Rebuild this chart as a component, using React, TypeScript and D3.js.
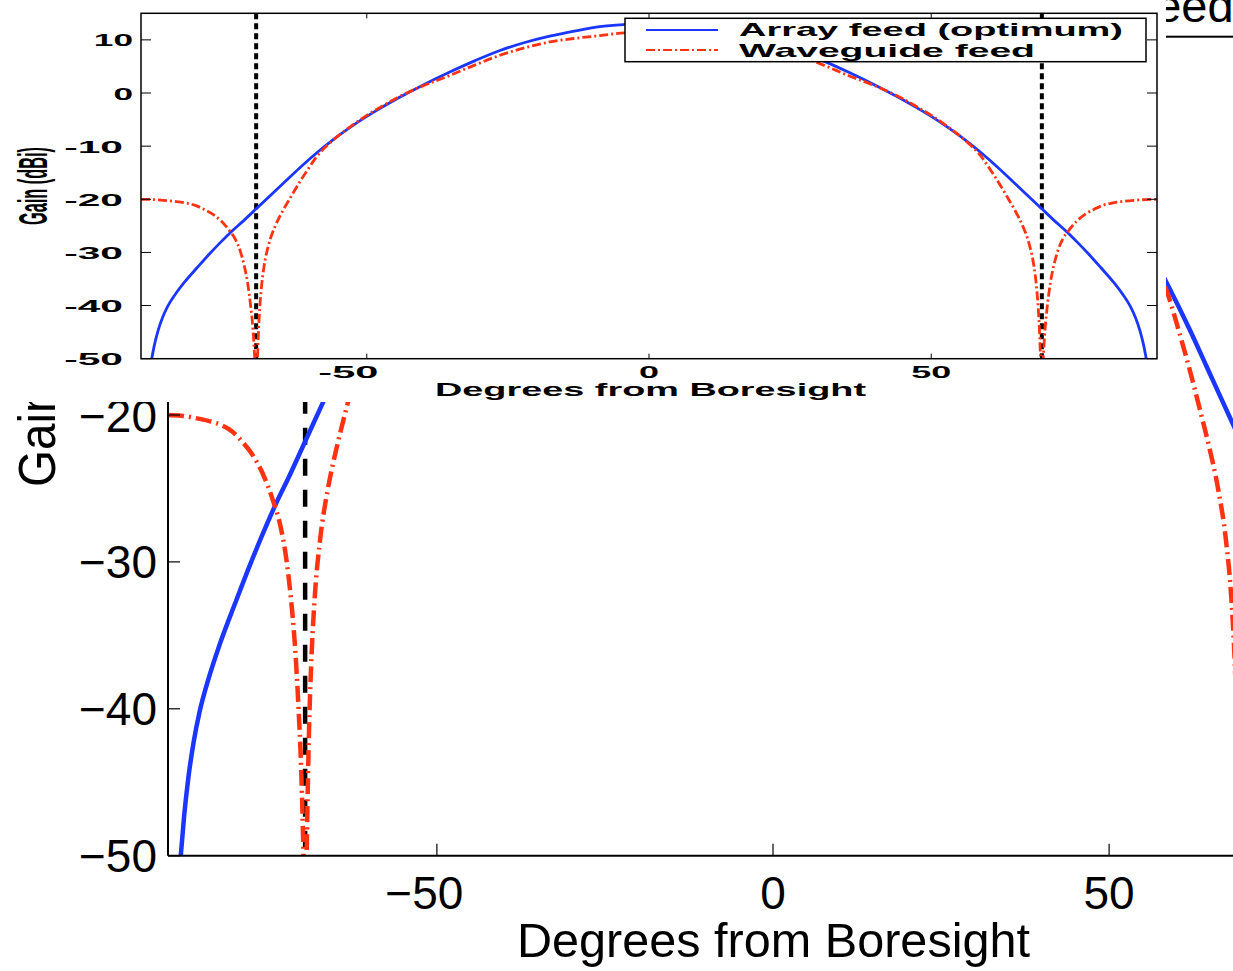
import React from "react";
import * as d3 from "d3";

// ---------- data ----------
const arrayAngles = [
  -88.6, -88.1, -87.6, -87.0, -86.2, -85.3, -84.0, -82.3, -80.0, -77.8, -76.0, -74.0, -72.0, -69.6,
  -66.7, -64.5, -62.0, -58.9, -56.0, -53.0, -50.0, -47.0, -44.1, -40.6, -35.3, -30.8, -26.4, -22.0,
  -17.6, -13.0, -8.7, -4.3, 0,
  4.3, 8.7, 13.0, 17.6, 22.0, 26.4, 30.8, 35.3, 40.6, 44.1, 47.0, 50.0, 53.0, 56.0, 58.9, 62.0,
  64.5, 66.7, 69.6, 72.0, 74.0, 76.0, 77.8, 80.0, 82.3, 84.0, 85.3, 86.2, 87.0, 87.6, 88.1, 88.6,
];
const arrayGains = [
  -53, -50, -47.3, -44.8, -42.3, -40.2, -38.0, -35.6, -32.8, -30.2, -28.2, -26.1, -24.2, -21.8,
  -18.9, -16.7, -14.2, -11.3, -8.8, -6.5, -4.4, -2.5, -0.75, 1.2, 3.95, 6.1, 8.0, 9.5,
  10.7, 11.7, 12.5, 12.9, 13.1,
  12.9, 12.5, 11.7, 10.7, 9.5, 8.0, 6.1, 3.95, 1.2, -0.75, -2.5, -4.4, -6.5, -8.8, -11.3, -14.2,
  -16.7, -18.9, -21.8, -24.2, -26.1, -28.2, -30.2, -32.8, -35.6, -38.0, -40.2, -42.3, -44.8, -47.3, -50, -53,
];

const waveAngles = [
  -90, -88, -86, -84, -82, -80.5, -79, -77.3, -75.8, -74.4, -73.3, -72.4, -71.8, -71.1, -70.6, -70.2,
  -69.95, -69.75, -69.6, -69.45, -69.3, -69.05, -68.7, -68.2, -67.4, -66.2, -64.9, -63.6, -61.8,
  -60.2, -58.9, -56, -53, -50, -47, -44.1, -40.6, -35.3, -30.8, -26.4, -22, -17.6, -13, -8.7, -4.3, 0,
  4.3, 8.7, 13, 17.6, 22, 26.4, 30.8, 35.3, 40.6, 44.1, 47, 50, 53, 56, 58.9, 60.2, 61.8, 63.6, 64.9,
  66.2, 67.4, 68.2, 68.7, 69.05, 69.3, 69.45, 69.6, 69.75, 69.95, 70.2, 70.6, 71.1, 71.8, 72.4, 73.3,
  74.4, 75.8, 77.3, 79, 80.5, 82, 84, 86, 88, 90,
];
const waveGains = [
  -20.0, -20.05, -20.2, -20.4, -20.7, -21.1, -21.8, -22.8, -24.1, -25.8, -27.5, -29.8, -32.1, -35.8, -39.8, -44.0,
  -48, -53, -65, -53, -48, -42, -37, -32.6, -28.6, -25.0, -22.2, -19.8, -16.6,
  -14.0, -12.0, -8.9, -6.4, -4.2, -2.3, -0.6, 1.1, 3.3, 5.3, 7.1, 8.5, 9.6, 10.3, 10.8, 11.3, 11.4,
  11.3, 10.8, 10.3, 9.6, 8.5, 7.1, 5.3, 3.3, 1.1, -0.6, -2.3, -4.2, -6.4, -8.9, -12.0, -14.0, -16.6, -19.8, -22.2,
  -25.0, -28.6, -32.6, -37, -42, -48, -53, -65, -53, -48, -44.0, -39.8, -35.8, -32.1, -29.8, -27.5,
  -25.8, -24.1, -22.8, -21.8, -21.1, -20.7, -20.4, -20.2, -20.05, -20.0,
];

const nullAngles = [-69.6, 69.6];
const insetYTicks = [10, 0, -10, -20, -30, -40, -50];
const xTickValues = [-50, 0, 50];
const mainYTicks = [-20, -30, -40, -50];
const seriesNames = ["Array feed (optimum)", "Waveguide feed"];
const xAxisTitle = "Degrees from Boresight";
const yAxisTitle = "Gain (dBi)";

// ---------- styling ----------
const W = 1233;
const H = 971;
const BLUE = "#1a36ff";
const RED = "#ff3312";
const FONT = "'Liberation Sans', Arial, Helvetica, sans-serif";

type Pt = [number, number];

export default function App() {
  const arrayData: Pt[] = arrayAngles.map((a, i) => [a, arrayGains[i]]);
  const waveData: Pt[] = waveAngles.map((a, i) => [a, waveGains[i]]);

  // background (large) chart
  const mx = d3.scaleLinear().domain([-90, 90]).range([168, 1378]);
  const my = d3.scaleLinear().domain([-50, 15]).range([855.7, 855.7 - 65 * 14.69]);
  const mLine = d3
    .line<Pt>()
    .x((d) => mx(d[0]))
    .y((d) => my(d[1]))
    .curve(d3.curveMonotoneX);

  // inset chart
  const ix = d3.scaleLinear().domain([-90, 90]).range([141, 1157]);
  const iy = d3.scaleLinear().domain([-50, 15]).range([358.7, 13.3]);
  const iLine = d3
    .line<Pt>()
    .x((d) => ix(d[0]))
    .y((d) => iy(d[1]))
    .curve(d3.curveMonotoneX);

  const bigMinus = (v: number) => (v < 0 ? "\u2212" + Math.abs(v) : String(v));

  const mTop = my(15);
  const mBottom = my(-50);

  return (
    <svg
      width={W}
      height={H}
      viewBox={`0 0 ${W} ${H}`}
      style={{ position: "absolute", left: 0, top: 0, background: "#fff" }}
    >
      <defs>
        <clipPath id="mainClip">
          <rect x={mx(-90)} y={mTop} width={mx(90) - mx(-90)} height={mBottom - mTop} />
        </clipPath>
        <clipPath id="insetClip">
          <rect x={ix(-90)} y={iy(15)} width={ix(90) - ix(-90)} height={iy(-50) - iy(15)} />
        </clipPath>
      </defs>
      <rect x={0} y={0} width={W} height={H} fill="#fff" />

      {/* ===== Background large chart ===== */}
      <g>
        <g clipPath="url(#mainClip)">
          {nullAngles.map((a) => (
            <line
              key={a}
              x1={mx(a)}
              x2={mx(a)}
              y1={mTop}
              y2={mBottom}
              stroke="#000"
              strokeWidth={4.5}
              strokeDasharray="17,14"
            />
          ))}
          <path d={mLine(arrayData) || ""} fill="none" stroke={BLUE} strokeWidth={4.5} />
          <path
            d={mLine(waveData) || ""}
            fill="none"
            stroke={RED}
            strokeWidth={4.5}
            strokeDasharray="16,5,2,5"
          />
        </g>
        {/* axes */}
        <line x1={mx(-90)} x2={mx(90)} y1={mBottom} y2={mBottom} stroke="#000" strokeWidth={2} />
        <line x1={mx(-90)} x2={mx(-90)} y1={mTop} y2={mBottom} stroke="#000" strokeWidth={2} />
        {xTickValues.map((v) => (
          <g key={"mx" + v}>
            <line x1={mx(v)} x2={mx(v)} y1={mBottom} y2={mBottom - 12} stroke="#000" strokeWidth={1.2} />
            <text
              x={v < 0 ? mx(v) + 26.5 : mx(v)}
              y={909}
              textAnchor={v < 0 ? "end" : "middle"}
              fontFamily={FONT}
              fontSize={46}
              fill="#000"
            >
              {bigMinus(v)}
            </text>
          </g>
        ))}
        {mainYTicks.map((v) => (
          <g key={"my" + v}>
            <line x1={mx(-90)} x2={mx(-90) + 12} y1={my(v)} y2={my(v)} stroke="#000" strokeWidth={1.2} />
            <text
              x={157}
              y={my(v) + 16.5}
              textAnchor="end"
              fontFamily={FONT}
              fontSize={46}
              fill="#000"
            >
              {bigMinus(v)}
            </text>
          </g>
        ))}
        <text
          x={773.5}
          y={956.5}
          textAnchor="middle"
          fontFamily={FONT}
          fontSize={47.5}
          textLength={513}
          lengthAdjust="spacingAndGlyphs"
          fill="#000"
        >
          {xAxisTitle}
        </text>
        <text
          transform="translate(55,487) rotate(-90)"
          x={0}
          y={0}
          textAnchor="start"
          fontFamily={FONT}
          fontSize={52}
          textLength={214}
          lengthAdjust="spacingAndGlyphs"
          fill="#000"
        >
          {yAxisTitle}
        </text>
        {/* big legend (mostly hidden behind the inset) */}
        <rect x={760} y={-110} width={600} height={146.7} fill="#fff" stroke="#000" strokeWidth={2} />
        <text
          x={1233.6}
          y={21.7}
          textAnchor="end"
          fontFamily={FONT}
          fontSize={47}
          fill="#000"
        >
          {seriesNames[1]}
        </text>
      </g>

      {/* white backdrop of the inset figure */}
      <rect x={0} y={0} width={1166} height={402} fill="#fff" />

      {/* ===== Inset chart ===== */}
      <g>
        <g clipPath="url(#insetClip)">
          {nullAngles.map((a) => (
            <line
              key={"in" + a}
              x1={ix(a)}
              x2={ix(a)}
              y1={iy(15)}
              y2={iy(-50)}
              stroke="#000"
              strokeWidth={4}
              strokeDasharray="6,4"
            />
          ))}
          <path d={iLine(arrayData) || ""} fill="none" stroke={BLUE} strokeWidth={2.8} />
          <path
            d={iLine(waveData) || ""}
            fill="none"
            stroke={RED}
            strokeWidth={2.8}
            strokeDasharray="9,3,2,3"
          />
        </g>
        {/* axes box */}
        <rect
          x={ix(-90)}
          y={iy(15)}
          width={ix(90) - ix(-90)}
          height={iy(-50) - iy(15)}
          fill="none"
          stroke="#000"
          strokeWidth={1.5}
        />
        {xTickValues.map((v) => (
          <g key={"ix" + v}>
            <line x1={ix(v)} x2={ix(v)} y1={iy(-50)} y2={iy(-50) - 5} stroke="#000" strokeWidth={1} />
            <line x1={ix(v)} x2={ix(v)} y1={iy(15)} y2={iy(15) + 5} stroke="#000" strokeWidth={1} />
            <text
              x={v < 0 ? ix(v) + 11.6 : ix(v)}
              y={378}
              textAnchor={v < 0 ? "end" : "middle"}
              fontFamily={FONT}
              fontWeight="bold"
              fontSize={16.5}
              textLength={String(v).length * 20}
              lengthAdjust="spacingAndGlyphs"
              fill="#000"
            >
              {String(v)}
            </text>
          </g>
        ))}
        {insetYTicks.map((v) => (
          <g key={"iy" + v}>
            <line x1={ix(-90)} x2={ix(-90) + 10} y1={iy(v)} y2={iy(v)} stroke="#000" strokeWidth={1} />
            <line x1={ix(90)} x2={ix(90) - 10} y1={iy(v)} y2={iy(v)} stroke="#000" strokeWidth={1} />
            <text
              x={v < 0 ? 123 : 133}
              y={iy(v) + 6.5}
              textAnchor="end"
              fontFamily={FONT}
              fontWeight="bold"
              fontSize={16.5}
              textLength={String(v).length * 19.6}
              lengthAdjust="spacingAndGlyphs"
              fill="#000"
            >
              {String(v)}
            </text>
          </g>
        ))}
        <text
          x={650.5}
          y={396}
          textAnchor="middle"
          fontFamily={FONT}
          fontWeight="bold"
          fontSize={18.5}
          textLength={431}
          lengthAdjust="spacingAndGlyphs"
          fill="#000"
        >
          {xAxisTitle}
        </text>
        <text
          transform="translate(46.5,225) rotate(-90)"
          x={0}
          y={0}
          textAnchor="start"
          fontFamily={FONT}
          fontWeight="bold"
          fontSize={40}
          textLength={78}
          lengthAdjust="spacingAndGlyphs"
          fill="#000"
        >
          {yAxisTitle}
        </text>

        {/* legend */}
        <rect x={625} y={18.3} width={521} height={43.4} fill="#fff" stroke="#000" strokeWidth={1.5} />
        <line x1={646} x2={718} y1={30} y2={30} stroke={BLUE} strokeWidth={2} />
        <line x1={646} x2={718} y1={50} y2={50} stroke={RED} strokeWidth={2} strokeDasharray="9,3,2,3" />
        <text
          x={739}
          y={36}
          fontFamily={FONT}
          fontWeight="bold"
          fontSize={18.5}
          textLength={384}
          lengthAdjust="spacingAndGlyphs"
          fill="#000"
        >
          {seriesNames[0]}
        </text>
        <text
          x={739}
          y={56.5}
          fontFamily={FONT}
          fontWeight="bold"
          fontSize={18.5}
          textLength={296}
          lengthAdjust="spacingAndGlyphs"
          fill="#000"
        >
          {seriesNames[1]}
        </text>
      </g>
    </svg>
  );
}
